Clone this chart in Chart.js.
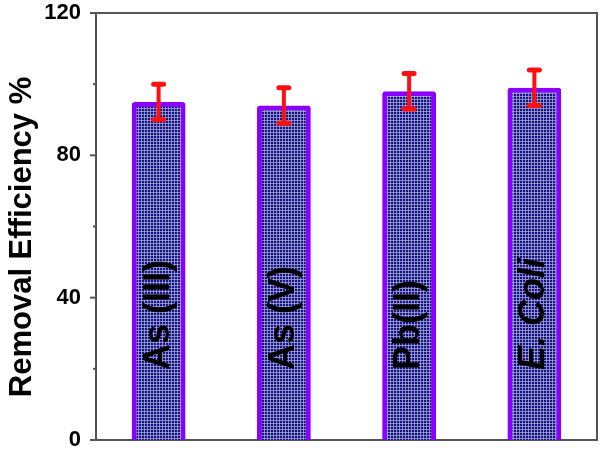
<!DOCTYPE html>
<html>
<head>
<meta charset="utf-8">
<script src="https://cdn.jsdelivr.net/npm/chart.js@4.4.0/dist/chart.umd.min.js"></script>
<style>
  html, body { margin: 0; padding: 0; background: #fff; }
  #wrap { width: 600px; height: 450px; }
</style>
</head>
<body>
<div id="wrap"><canvas id="chart" width="600" height="450"></canvas></div>
<script>
// data
const categories = ["As (III)", "As (V)", "Pb(II)", "E. Coli"];
const efficiency = [95, 94, 98, 99];
const errors = [5, 5, 5, 5];
const majorTicks = [0, 40, 80, 120];
const minorTicks = [20, 60, 100];

// hatched navy fill like the scanned bars
function makePattern() {
  const c = document.createElement("canvas");
  c.width = 3;
  c.height = 3;
  const g = c.getContext("2d");
  g.fillStyle = "#16167c";
  g.fillRect(0, 0, 3, 3);
  g.fillStyle = "rgba(170,170,225,0.75)";
  g.fillRect(0, 0, 3, 1);
  g.fillRect(0, 0, 1, 3);
  return g.createPattern(c, "repeat");
}

const extras = {
  id: "extras",
  afterDatasetsDraw(chart) {
    const ctx = chart.ctx;
    const y = chart.scales.y;
    const area = chart.chartArea;
    const bars = chart.getDatasetMeta(0).data;

    // frame top + right
    ctx.save();
    ctx.strokeStyle = "#555";
    ctx.lineWidth = 2;
    ctx.beginPath();
    ctx.moveTo(area.left, area.top);
    ctx.lineTo(area.right, area.top);
    ctx.lineTo(area.right, area.bottom);
    ctx.stroke();

    // outward ticks on the y axis
    majorTicks.forEach(v => {
      const py = y.getPixelForValue(v);
      ctx.beginPath();
      ctx.moveTo(area.left - 6, py);
      ctx.lineTo(area.left, py);
      ctx.stroke();
    });
    minorTicks.forEach(v => {
      const py = y.getPixelForValue(v);
      ctx.beginPath();
      ctx.moveTo(area.left - 3, py);
      ctx.lineTo(area.left, py);
      ctx.stroke();
    });

    // error bars
    ctx.strokeStyle = "#ff1010";
    ctx.lineCap = "round";
    bars.forEach((bar, i) => {
      const top = y.getPixelForValue(efficiency[i] + errors[i]);
      const bot = y.getPixelForValue(efficiency[i] - errors[i]);
      ctx.lineWidth = 4;
      ctx.beginPath();
      ctx.moveTo(bar.x, top);
      ctx.lineTo(bar.x, bot);
      ctx.stroke();
      ctx.lineWidth = 5;
      ctx.beginPath();
      ctx.moveTo(bar.x - 5, top);
      ctx.lineTo(bar.x + 5, top);
      ctx.moveTo(bar.x - 5, bot);
      ctx.lineTo(bar.x + 5, bot);
      ctx.stroke();
    });

    // category names written up inside the bars
    ctx.fillStyle = "#000";
    ctx.textAlign = "left";
    ctx.textBaseline = "middle";
    bars.forEach((bar, i) => {
      ctx.save();
      ctx.translate(bar.x, 370);
      ctx.rotate(-Math.PI / 2);
      const italic = categories[i] === "E. Coli" ? "italic " : "";
      ctx.font = italic + "bold 36px 'Liberation Sans', Arial, sans-serif";
      ctx.fillText(categories[i], 0, 0);
      ctx.restore();
    });

    // y axis title
    ctx.save();
    ctx.translate(22, 237);
    ctx.rotate(-Math.PI / 2);
    ctx.textAlign = "center";
    ctx.font = "bold 31px 'Liberation Sans', Arial, sans-serif";
    ctx.fillText("Removal Efficiency %", 0, 0);
    ctx.restore();
    ctx.restore();
  }
};

new Chart(document.getElementById("chart"), {
  type: "bar",
  data: {
    labels: categories,
    datasets: [{
      data: efficiency,
      backgroundColor: makePattern(),
      borderColor: "#8a00ff",
      borderWidth: 5,
      borderRadius: 3,
      borderSkipped: "bottom",
      barPercentage: 0.43,
      categoryPercentage: 1
    }]
  },
  options: {
    responsive: false,
    animation: false,
    layout: { padding: { top: 13, right: 3, left: 0, bottom: 0 } },
    plugins: { legend: { display: false }, tooltip: { enabled: false } },
    scales: {
      x: {
        grid: { display: false },
        ticks: { display: false },
        border: { color: "#555", width: 2 },
        afterFit(scale) { scale.height = 10; }
      },
      y: {
        min: 0,
        max: 120,
        grid: { display: false },
        border: { color: "#555", width: 2 },
        ticks: {
          stepSize: 40,
          padding: 7,
          color: "#000",
          font: { family: "'Liberation Sans', Arial, sans-serif", size: 22, weight: "bold" }
        },
        afterFit(scale) {
          scale.width = 96;
          scale.paddingTop = 0;
          scale.paddingBottom = 0;
        }
      }
    }
  },
  plugins: [extras]
});
</script>
</body>
</html>
